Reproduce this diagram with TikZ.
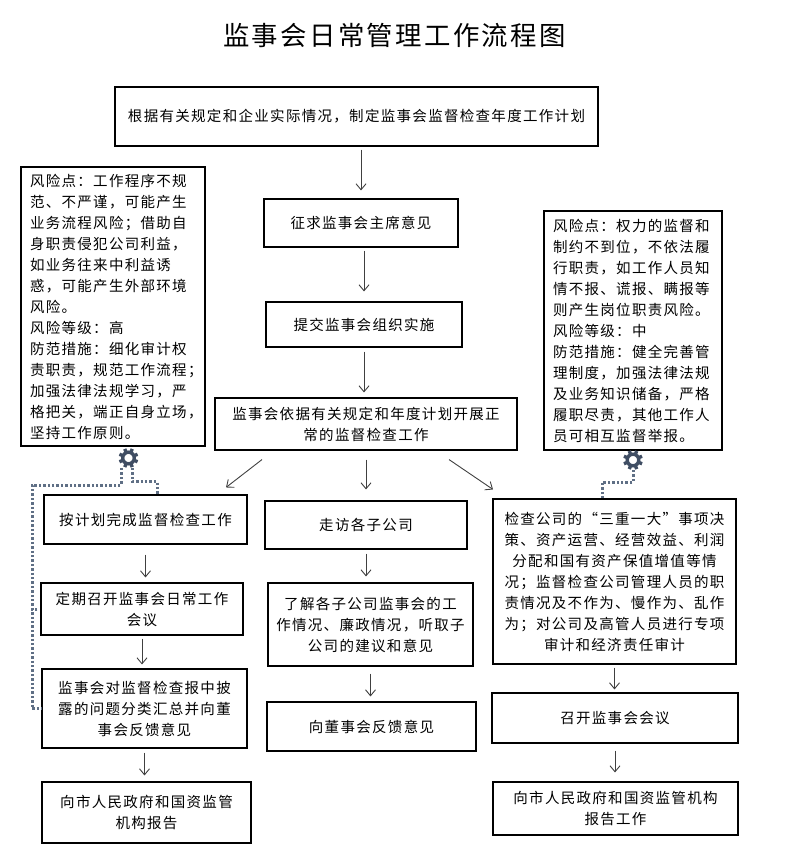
\documentclass[tikz,border=0pt]{standalone}
\usepackage{fontspec}
\setmainfont{Noto Sans CJK SC}[LetterSpace=9]
\usetikzlibrary{arrows.meta}
\definecolor{gearc}{HTML}{3F4D63}
\definecolor{dotc}{HTML}{5F6F85}
\begin{document}
\begin{tikzpicture}[x=1pt,y=-1pt,
  font=\fontsize{14.5}{21}\selectfont,
  box/.style={draw=black,line width=1.1pt,inner sep=2pt,align=center},
  riskbox/.style={draw=black,line width=1.1pt,inner xsep=9pt,inner ysep=0pt,align=left},
  arr/.style={draw=black!75,line width=0.9pt,-{Straight Barb[length=6pt,width=10pt]}},
  dotline/.style={draw=dotc,line width=3pt,dash pattern=on 2.4pt off 2pt}]
\useasboundingbox (0,0) rectangle (793,865);
\node[font=\fontsize{26.4}{30}\selectfont] (title) at (394.5,35) {监事会日常管理工作流程图};
\node[box,minimum width=483pt,minimum height=59pt] (top) at (356.5,116.5) {根据有关规定和企业实际情况，制定监事会监督检查年度工作计划};
\node[box,minimum width=194pt,minimum height=48pt] (sup) at (361,223) {征求监事会主席意见};
\node[box,minimum width=196pt,minimum height=45pt] (sub) at (364,324.5) {提交监事会组织实施};
\node[box,minimum width=302pt,minimum height=52pt] (work) at (366,424) {监事会依据有关规定和年度计划开展正\\常的监督检查工作};
\node[riskbox,text width=166pt,minimum height=279pt] (riskL) at (113,306.5) {风险点：工作程序不规\\范、不严谨，可能产生\\业务流程风险；借助自\\身职责侵犯公司利益，\\如业务往来中利益诱\\惑，可能产生外部环境\\风险。\\风险等级：高\\防范措施：细化审计权\\责职责，规范工作流程；\\加强法律法规学习，严\\格把关，端正自身立场，\\坚持工作原则。};
\node[riskbox,text width=160pt,minimum height=239pt] (riskR) at (633,330.5) {风险点：权力的监督和\\制约不到位，不依法履\\行职责，如工作人员知\\情不报、谎报、瞒报等\\则产生岗位职责风险。\\风险等级：中\\防范措施：健全完善管\\理制度，加强法律法规\\及业务知识储备，严格\\履职尽责，其他工作人\\员可相互监督举报。};
\node[box,minimum width=203pt,minimum height=49pt] (plan) at (145.5,519.5) {按计划完成监督检查工作};
\node[box,minimum width=202pt,minimum height=52pt] (meet) at (142,609) {定期召开监事会日常工作\\会议};
\node[box,minimum width=205pt,minimum height=79pt] (rep) at (144.5,708.5) {监事会对监督检查报中披\\露的问题分类汇总并向董\\事会反馈意见};
\node[box,minimum width=209pt,minimum height=61pt] (repL) at (146.5,812.5) {向市人民政府和国资监管\\机构报告};
\node[box,minimum width=202pt,minimum height=48pt] (visit) at (366,525) {走访各子公司};
\node[box,minimum width=205pt,minimum height=83pt] (learn) at (370.5,624.5) {了解各子公司监事会的工\\作情况、廉政情况，听取子\\公司的建议和意见};
\node[box,minimum width=209pt,minimum height=49pt] (fb) at (371.5,726.5) {向董事会反馈意见};
\node[box,minimum width=243pt,minimum height=165pt] (chk) at (614.5,581.5) {检查公司的“三重一大”事项决\\策、资产运营、经营效益、利润\\分配和国有资产保值增值等情\\况；监督检查公司管理人员的职\\责情况及不作为、慢作为、乱作\\为；对公司及高管人员进行专项\\审计和经济责任审计};
\node[box,minimum width=246pt,minimum height=50pt] (conv) at (615,718) {召开监事会会议};
\node[box,minimum width=245pt,minimum height=53pt] (repR) at (615.5,808.5) {向市人民政府和国资监管机构\\报告工作};
\coordinate (gearL) at (128.5,458);
\coordinate (gearR) at (633,460);
\draw[arr,shorten <=3pt,shorten >=8pt] (sup.north |- top.south) -- (sup.north);
\draw[arr,shorten <=3pt,shorten >=10pt] (sub.north |- sup.south) -- (sub.north);
\draw[arr,shorten <=4pt,shorten >=5pt] (sub.south) -- (sub.south |- work.north);
\draw[arr] ([xshift=-104pt,yshift=-9pt]work.south) -- ([xshift=80.5pt,yshift=7pt]plan.north);
\draw[arr] ([yshift=-9pt]work.south) -- ([yshift=11pt]visit.north);
\draw[arr] ([xshift=83pt,yshift=-9pt]work.south) -- ([xshift=-121.5pt,yshift=9pt]chk.north);
\draw[arr,shorten <=10pt,shorten >=5pt] (plan.south) -- (plan.south |- meet.north);
\draw[arr,shorten <=3pt,shorten >=4pt] (meet.south) -- (meet.south |- rep.north);
\draw[arr,shorten <=4pt,shorten >=6pt] (rep.south) -- (rep.south |- repL.north);
\draw[arr,shorten <=4pt,shorten >=6pt] (visit.south) -- (visit.south |- learn.north);
\draw[arr,shorten <=7pt,shorten >=5pt] (learn.south) -- (learn.south |- fb.north);
\draw[arr,shorten <=3pt,shorten >=3pt] (chk.south) -- (chk.south |- conv.north);
\draw[arr,shorten <=7pt,shorten >=9pt] (conv.south) -- (conv.south |- repR.north);
\foreach \g in {gearL,gearR}{
  \draw[gearc,line width=3.4pt] (\g) circle (5.8pt);
  \foreach \a in {0,45,...,315}
    \fill[gearc,shift={(\g)},rotate=\a+22.5] (-1.7pt,6pt) rectangle (1.7pt,9.8pt);
}
\draw[dotline] ([xshift=-7.5pt,yshift=-10pt]gearL) |- (32,485) |- (rep.west);
\draw[dotline] ([xshift=-3pt]meet.west) -- ++(-7,0);
\draw[dotline] ([xshift=3.5pt,yshift=-10pt]gearL) |- ([xshift=11.5pt,yshift=13pt]plan.north) -- ([xshift=11.5pt]plan.north);
\draw[dotline] ([yshift=-10pt]gearR) |- ([xshift=-12.5pt,yshift=16pt]chk.north) -- ([xshift=-12.5pt]chk.north);
\end{tikzpicture}
\end{document}
